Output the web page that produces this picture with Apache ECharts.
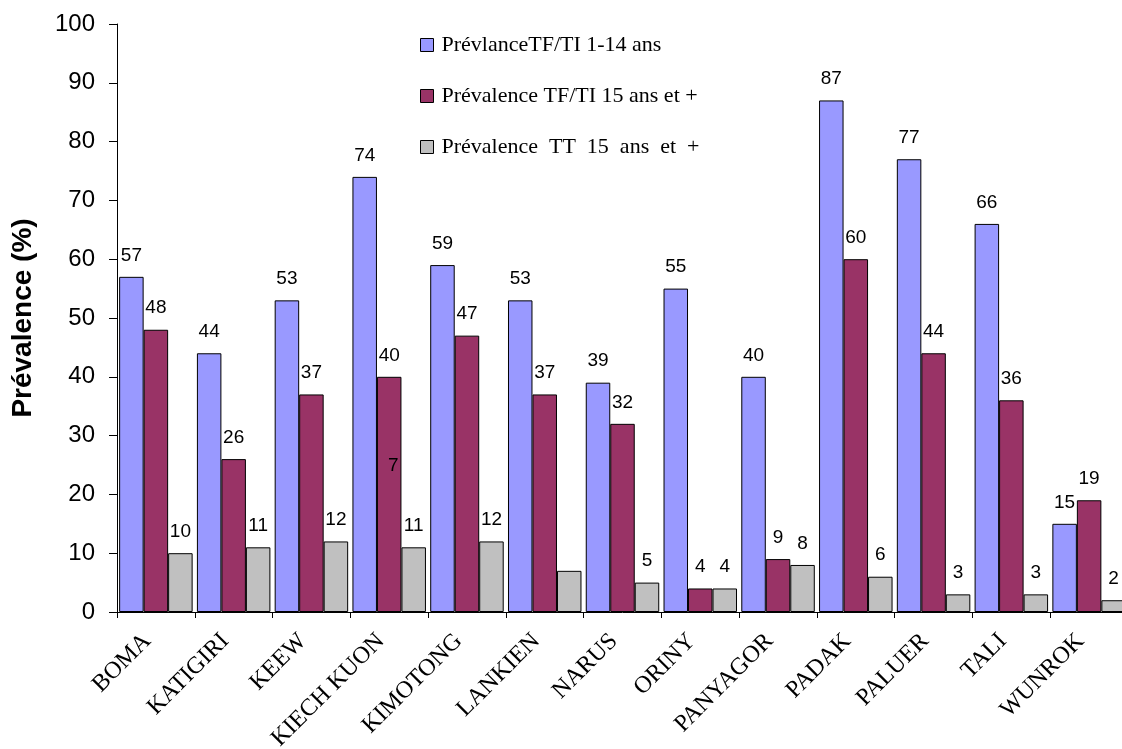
<!DOCTYPE html>
<html>
<head>
<meta charset="utf-8">
<script src="https://cdn.jsdelivr.net/npm/echarts@6/dist/echarts.min.js"></script>
<style>
  html, body { margin: 0; padding: 0; overflow: hidden; background: #fff; }
  #chart { width: 1128px; height: 749px; }
</style>
</head>
<body>
<div id="chart"></div>
<script>
// Villages surveyed
const categories = ['BOMA', 'KATIGIRI', 'KEEW', 'KIECH KUON', 'KIMOTONG', 'LANKIEN', 'NARUS',
  'ORINY', 'PANYAGOR', 'PADAK', 'PALUER', 'TALI', 'WUNROK'];

// Prevalence (%) per village
const tfChildren = [57, 44, 53, 74, 59, 53, 39, 55, 40, 87, 77, 66, 15];
const tfAdults   = [48, 26, 37, 40, 47, 37, 32, 4, 9, 60, 44, 36, 19];
const ttAdults   = [10, 11, 12, 11, 12, 7, 5, 4, 8, 6, 3, 3, 2];

const seriesNames = ['PrévlanceTF/TI 1-14 ans', 'Prévalence TF/TI 15 ans et +', 'Prévalence TT 15 ans et +'];
const colors = ['#9999FF', '#993366', '#C0C0C0'];

const chart = echarts.init(document.getElementById('chart'));

const valueLabel = {
  show: true,
  position: 'top',
  distance: 12,
  color: '#000',
  fontFamily: 'Liberation Sans, Arial, sans-serif',
  fontSize: 19
};

// The LANKIEN TT label sits away from its bar
const ttData = ttAdults.map((v, i) =>
  categories[i] === 'LANKIEN' ? { value: v, label: { offset: [-176, -84] } } : v);

function bar(name, data, color) {
  return {
    name: name,
    type: 'bar',
    data: data,
    barGap: '0%',
    barCategoryGap: '5.5%',
    itemStyle: { color: color, borderColor: '#000', borderWidth: 1 },
    label: valueLabel,
    emphasis: { disabled: true }
  };
}

chart.setOption({
  animation: false,
  grid: { left: 117, right: 0, top: 24, bottom: 137, containLabel: false, outerBoundsMode: 'none' },
  legend: {
    orient: 'vertical',
    left: 420,
    top: 34,
    padding: 0,
    itemGap: 29,
    itemWidth: 13,
    itemHeight: 13,
    icon: 'rect',
    itemStyle: { borderColor: '#000', borderWidth: 1 },
    textStyle: {
      fontFamily: 'Liberation Serif, Times New Roman, serif',
      fontSize: 22,
      lineHeight: 22,
      color: '#000',
      padding: [0, 0, 0, 3]
    },
    // the TT entry is set with wider word spacing
    formatter: name => name === seriesNames[2] ? name.split(' ').join('  ') : name,
    data: seriesNames
  },
  xAxis: {
    type: 'category',
    data: categories,
    axisLine: { lineStyle: { color: '#000', width: 1 } },
    axisTick: { show: true, length: 6, lineStyle: { color: '#000' } },
    axisLabel: {
      rotate: 45,
      interval: 0,
      margin: 34,
      verticalAlign: 'bottom',
      color: '#000',
      fontFamily: 'Liberation Serif, Times New Roman, serif',
      fontSize: 24
    }
  },
  yAxis: {
    type: 'value',
    min: 0,
    max: 100,
    interval: 10,
    name: 'Prévalence (%)',
    nameLocation: 'middle',
    nameGap: 80,
    nameTextStyle: {
      fontFamily: 'Liberation Sans, Arial, sans-serif',
      fontSize: 28,
      fontWeight: 'bold',
      color: '#000'
    },
    axisLine: { show: true, lineStyle: { color: '#000', width: 1 } },
    axisTick: { show: true, length: 8, lineStyle: { color: '#000' } },
    splitLine: { show: false },
    axisLabel: {
      margin: 22,
      color: '#000',
      fontFamily: 'Liberation Sans, Arial, sans-serif',
      fontSize: 24
    }
  },
  series: [
    bar(seriesNames[0], tfChildren, colors[0]),
    bar(seriesNames[1], tfAdults, colors[1]),
    bar(seriesNames[2], ttData, colors[2])
  ]
});
</script>
</body>
</html>
